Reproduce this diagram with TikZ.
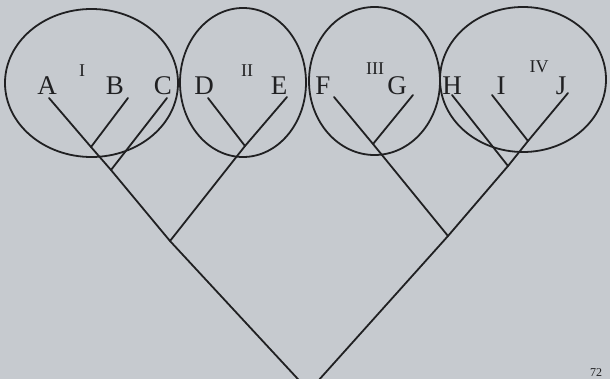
\documentclass[tikz,border=0pt]{standalone}
\usepackage{fontspec}
\setmainfont{Liberation Serif}
\begin{document}
\begin{tikzpicture}[x=1pt,y=-1pt,
  ink/.style={draw=inkc,line width=1.8pt},
  branch/.style={ink,line cap=round},
  taxon/.style={text=inkc,font=\fontsize{27}{30}\selectfont,anchor=base,inner sep=0pt},
  group/.style={text=inkc,font=\fontsize{18}{20}\selectfont,anchor=base,inner sep=0pt}]
\definecolor{bgc}{RGB}{198,202,207}
\definecolor{inkc}{RGB}{32,32,34}
\useasboundingbox (0,0) rectangle (610,379);
\fill[bgc] (0,0) rectangle (610,379);
\clip (0,0) rectangle (610,379);
% group ellipses
\draw[ink] (91.5,83) ellipse [x radius=86.5, y radius=74];
\draw[ink] (243,82.5) ellipse [x radius=63, y radius=74.5];
\draw[ink] (374.5,81) ellipse [x radius=65.5, y radius=74];
\draw[ink] (523,79.5) ellipse [x radius=83, y radius=72.5];
% taxon labels
\node[taxon] (lA) at (47,95) {A};
\node[taxon] (lB) at (115,95) {B};
\node[taxon] (lC) at (163,95) {C};
\node[taxon] (lD) at (204,95) {D};
\node[taxon] (lE) at (279,95) {E};
\node[taxon] (lF) at (323,95) {F};
\node[taxon] (lG) at (397,95) {G};
\node[taxon] (lH) at (452,95) {H};
\node[taxon] (lI) at (501,95) {I};
\node[taxon] (lJ) at (561,95) {J};
% group labels
\node[group] (g1) at (82,77) {I};
\node[group] (g2) at (247,77) {II};
\node[group] (g3) at (375,75) {III};
\node[group] (g4) at (539,73) {IV};
% page number
\node[text=inkc,font=\fontsize{12}{13}\selectfont,anchor=base,inner sep=0pt] (pg) at (596,376.5) {72};
% branch tips
\coordinate (tA) at (49,98);
\coordinate (tB) at (128,98);
\coordinate (tC) at (167,98);
\coordinate (tD) at (208,98);
\coordinate (tE) at (287,97);
\coordinate (tF) at (334,97);
\coordinate (tG) at (413,95);
\coordinate (tH) at (452,95);
\coordinate (tI) at (492,95);
\coordinate (tJ) at (568,93);
% internal nodes
\coordinate (nAB) at (91,147);
\coordinate (nAC) at (111,170);
\coordinate (nDE) at (245,146);
\coordinate (nL) at (170,241);
\coordinate (nFG) at (373,144);
\coordinate (nIJ) at (528,141);
\coordinate (nHJ) at (508,166);
\coordinate (nR) at (448,236);
\coordinate (root) at (309,391);
% branches
\draw[branch] (tA) -- (nAB) -- (nAC) -- (nL);
\draw[branch] (tB) -- (nAB);
\draw[branch] (tC) -- (nAC);
\draw[branch] (tD) -- (nDE);
\draw[branch] (tE) -- (nDE) -- (nL);
\draw[branch] (tF) -- (nFG) -- (nR);
\draw[branch] (tG) -- (nFG);
\draw[branch] (tJ) -- (nIJ) -- (nHJ) -- (nR);
\draw[branch] (tI) -- (nIJ);
\draw[branch] (tH) -- (nHJ);
\draw[branch] (nL) -- (root);
\draw[branch] (nR) -- (root);
\end{tikzpicture}
\end{document}
